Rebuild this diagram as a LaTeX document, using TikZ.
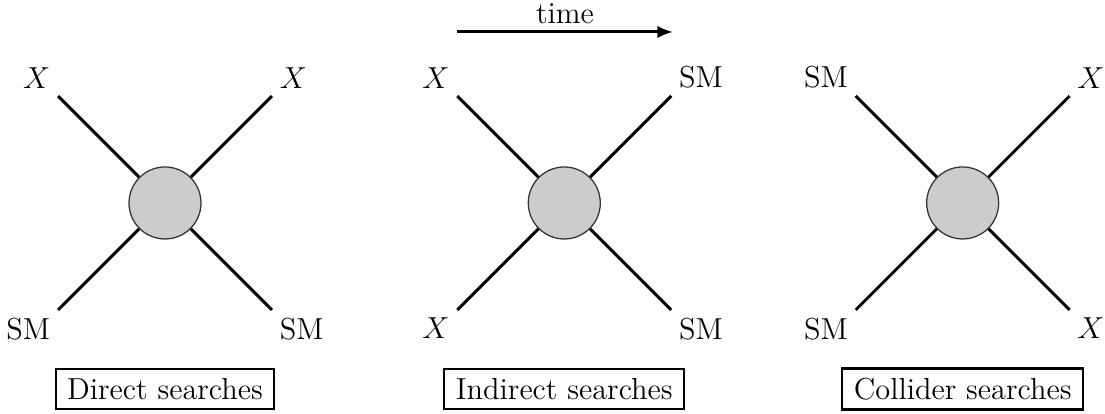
\documentclass[tikz,border=0pt]{standalone}
\usepackage{tikz}
\usetikzlibrary{positioning,arrows.meta}

\tikzset{
  blob/.style={circle,draw=black!80,line width=0.6pt,fill=black!20,minimum size=1.2cm,inner sep=0pt},
  leg/.style={line width=1.4pt},
  lab/.style={inner sep=3pt},
  searchbox/.style={draw,line width=1pt,inner xsep=5.5pt,inner ysep=4.5pt},
  every node/.style={font=\Large}
}

\begin{document}
\begin{tikzpicture}[scale=1]
\useasboundingbox (0,0) rectangle (18.417,6.9);
%fleche du temps
\coordinate (t0) at (7.617,6.367);
\coordinate (t1) at (11.217,6.367);
\draw[->,>={Latex[length=2.6mm,width=2.1mm]},line width=1.4pt] (t0) -- (t1) node[midway,above,inner sep=3pt] (time) {time};

%direct
\begin{scope}[shift={(2.75,3.517)}]
\node[blob] (b1) at (0,0) {};
\coordinate (b1tl) at (-1.783,1.783);
\coordinate (b1tr) at (1.783,1.783);
\coordinate (b1bl) at (-1.783,-1.783);
\coordinate (b1br) at (1.783,-1.783);
\draw[leg] (b1) -- (b1tl) node[lab,above left] (x1tl) {$X$};
\draw[leg] (b1) -- (b1tr) node[lab,above right] (x1tr) {$X$};
\draw[leg] (b1) -- (b1bl) node[lab,below left] (sm1bl) {SM};
\draw[leg] (b1) -- (b1br) node[lab,below right] (sm1br) {SM};
\end{scope}
\node[searchbox] (direct) at (2.75,0.417) {Direct searches};

%indirect
\begin{scope}[shift={(9.405,3.517)}]
\node[blob] (b2) at (0,0) {};
\coordinate (b2tl) at (-1.783,1.783);
\coordinate (b2tr) at (1.783,1.783);
\coordinate (b2bl) at (-1.783,-1.783);
\coordinate (b2br) at (1.783,-1.783);
\draw[leg] (b2) -- (b2tl) node[lab,above left] (x2tl) {$X$};
\draw[leg] (b2) -- (b2tr) node[lab,above right] (sm2tr) {SM};
\draw[leg] (b2) -- (b2bl) node[lab,below left] (x2bl) {$X$};
\draw[leg] (b2) -- (b2br) node[lab,below right] (sm2br) {SM};
\end{scope}
\node[searchbox] (indirect) at (9.405,0.417) {Indirect searches};

%collider
\begin{scope}[shift={(16.045,3.517)}]
\node[blob] (b3) at (0,0) {};
\coordinate (b3tl) at (-1.783,1.783);
\coordinate (b3tr) at (1.783,1.783);
\coordinate (b3bl) at (-1.783,-1.783);
\coordinate (b3br) at (1.783,-1.783);
\draw[leg] (b3) -- (b3tl) node[lab,above left] (sm3tl) {SM};
\draw[leg] (b3) -- (b3tr) node[lab,above right] (x3tr) {$X$};
\draw[leg] (b3) -- (b3bl) node[lab,below left] (sm3bl) {SM};
\draw[leg] (b3) -- (b3br) node[lab,below right] (x3br) {$X$};
\end{scope}
\node[searchbox] (collider) at (16.045,0.417) {Collider searches};
\end{tikzpicture}
\end{document}
